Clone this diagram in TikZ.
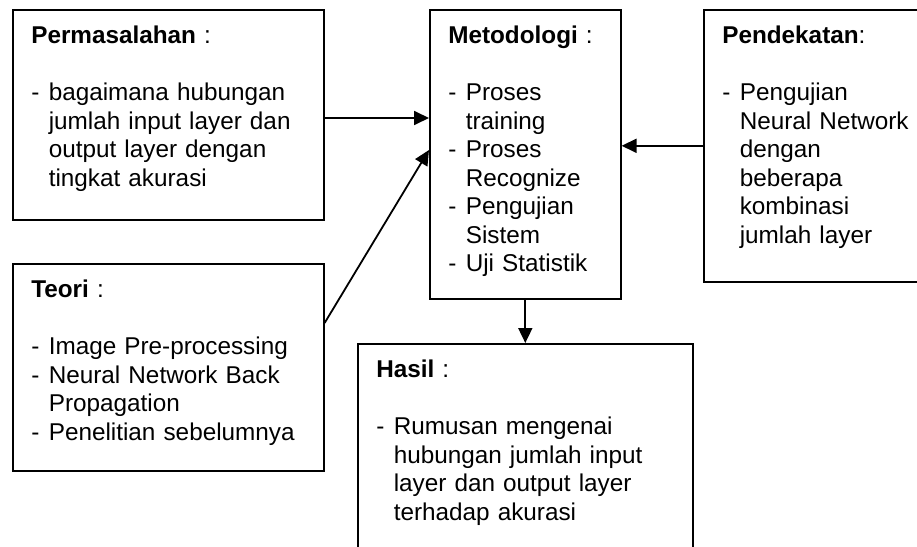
\documentclass[tikz,border=0pt]{standalone}
\usepackage{fontspec}
\setmainfont{Liberation Sans}
\usetikzlibrary{arrows.meta}
\newcommand{\itemdash}{\makebox[17.5pt][l]{-}}
\newcommand{\itemcont}{\hspace*{17.5pt}}
\begin{document}
\begin{tikzpicture}[x=1pt,y=1pt,font=\fontsize{24.3}{28.5}\selectfont,
  kotak/.style={draw,line width=1.6pt,anchor=north west,align=left,inner xsep=18.5pt,inner ysep=0pt,text height=34pt},
  panah/.style={line width=1.8pt,-{Triangle[length=15pt,width=14pt]}}]
  \useasboundingbox (0,0) rectangle (917,-546);
  \node[kotak,text width=274pt,text depth=176pt] (perm) at (12,-9){\textbf{Permasalahan} :\\[28.5pt]\itemdash bagaimana hubungan\\\itemcont jumlah input layer dan\\\itemcont output layer dengan\\\itemcont tingkat akurasi};
  \node[kotak,text width=154pt,text depth=255pt] (metod) at (429,-9){\textbf{Metodologi} :\\[28.5pt]\itemdash Proses\\\itemcont training\\\itemdash Proses\\\itemcont Recognize\\\itemdash Pengujian\\\itemcont Sistem\\\itemdash Uji Statistik};
  \node[kotak,text width=233pt,text depth=238pt] (pend) at (703,-9){\textbf{Pendekatan}:\\[28.5pt]\itemdash Pengujian\\\itemcont Neural Network\\\itemcont dengan\\\itemcont beberapa\\\itemcont kombinasi\\\itemcont jumlah layer};
  \node[kotak,text width=274pt,text depth=173pt] (teori) at (12,-263){\textbf{Teori} :\\[28.5pt]\itemdash Image Pre-processing\\\itemdash Neural Network Back\\\itemcont Propagation\\\itemdash Penelitian sebelumnya};
  \node[kotak,text width=298pt,text depth=171pt] (hasil) at (357,-343){\textbf{Hasil} :\\[28.5pt]\itemdash Rumusan mengenai\\\itemcont hubungan jumlah input\\\itemcont layer dan output layer\\\itemcont terhadap akurasi};
  \draw[panah] ([yshift=-109pt]perm.north east) -- ([yshift=-109pt]metod.north west);
  \draw[panah] ([yshift=-60pt]teori.north east) -- ([yshift=-141pt]metod.north west);
  \draw[panah] (pend.west) -- (pend.west -| metod.east);
  \draw[panah] (metod.south) -- (metod.south |- hasil.north);
\end{tikzpicture}
\end{document}
